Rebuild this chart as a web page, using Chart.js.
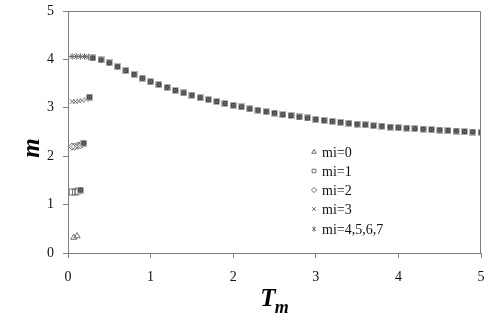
<!DOCTYPE html>
<html><head><meta charset="utf-8">
<script src="https://cdn.jsdelivr.net/npm/chart.js@4.4.1/dist/chart.umd.min.js"></script>
<style>html,body{margin:0;padding:0;background:#fff;overflow:hidden}#wrap{position:relative;width:491px;height:321px}</style>
</head><body><div id="wrap"><canvas id="c"></canvas></div>
<script>
// ---- data ----
const xTickValues = [0, 1, 2, 3, 4, 5];
const yTickValues = [0, 1, 2, 3, 4, 5];
const seriesLabels = ['mi=0', 'mi=1', 'mi=2', 'mi=3', 'mi=4,5,6,7'];
const mi0T = [0.07, 0.11];
const mi0M = [0.32, 0.35];
const mi1T = [0.05, 0.09, 0.12, 0.15];
const mi1M = [1.26, 1.26, 1.28, 1.30];
const mi2T = [0.05, 0.08, 0.12, 0.15, 0.17, 0.19];
const mi2M = [2.20, 2.20, 2.22, 2.23, 2.25, 2.27];
const mi3T = [0.05, 0.09, 0.13, 0.17, 0.22, 0.26];
const mi3M = [3.13, 3.13, 3.14, 3.15, 3.17, 3.22];
const mi47T = [0.05, 0.10, 0.15, 0.20, 0.25,
  0.3, 0.4, 0.5, 0.6, 0.7, 0.8, 0.9, 1.0, 1.1, 1.2, 1.3, 1.4, 1.5, 1.6, 1.7, 1.8, 1.9,
  2.0, 2.1, 2.2, 2.3, 2.4, 2.5, 2.6, 2.7, 2.8, 2.9, 3.0, 3.1, 3.2, 3.3, 3.4, 3.5, 3.6,
  3.7, 3.8, 3.9, 4.0, 4.1, 4.2, 4.3, 4.4, 4.5, 4.6, 4.7, 4.8, 4.9, 5.0];
const mi47M = [4.06, 4.06, 4.06, 4.06, 4.05,
  4.03, 3.99, 3.93, 3.85, 3.77, 3.69, 3.61, 3.54, 3.48, 3.42, 3.36, 3.31, 3.26, 3.21, 3.17, 3.13, 3.09,
  3.05, 3.02, 2.98, 2.95, 2.92, 2.89, 2.86, 2.84, 2.81, 2.79, 2.76, 2.74, 2.72, 2.70, 2.68, 2.66, 2.65,
  2.63, 2.62, 2.60, 2.59, 2.58, 2.57, 2.56, 2.55, 2.54, 2.53, 2.52, 2.51, 2.50, 2.49];

function pts(xs, ys) { return xs.map((x, i) => ({x: x, y: ys[i]})); }

// dark overlapping-marker look
function makeBox() {
  const c = document.createElement('canvas'); c.width = 7; c.height = 7;
  const g = c.getContext('2d');
  g.fillStyle = '#b8b8b8'; g.fillRect(0, 0, 7, 7);
  g.fillStyle = '#3c3c3c'; g.fillRect(1, 1, 5, 5);
  g.strokeStyle = '#8a8a8a'; g.lineWidth = 1;
  g.beginPath(); g.moveTo(1.5, 1.5); g.lineTo(5.5, 5.5); g.moveTo(5.5, 1.5); g.lineTo(1.5, 5.5); g.stroke();
  return c;
}
const BOX = makeBox();
const EDGE = '#6e6e6e';

const styles = ['triangle', 'rect', 'rectRot', 'crossRot', 'star'];
const radii = [3.5, 4.2, 3.6, 3.2, 3.2];

function lastDark(style) {
  return ctx => ctx.dataIndex === ctx.dataset.data.length - 1 ? BOX : style;
}

const datasets = [
  {label: seriesLabels[0], data: pts(mi0T, mi0M), pointStyle: styles[0], pointRadius: radii[0]},
  {label: seriesLabels[1], data: pts(mi1T, mi1M), pointStyle: lastDark(styles[1]), pointRadius: radii[1]},
  {label: seriesLabels[2], data: pts(mi2T, mi2M), pointStyle: lastDark(styles[2]), pointRadius: radii[2]},
  {label: seriesLabels[3], data: pts(mi3T, mi3M), pointStyle: lastDark(styles[3]), pointRadius: radii[3]},
  {label: seriesLabels[4], data: pts(mi47T, mi47M), pointStyle: ctx => ctx.dataIndex >= 5 ? BOX : styles[4], pointRadius: radii[4]}
].map(d => Object.assign(d, {showLine: false, borderColor: EDGE, backgroundColor: 'rgba(0,0,0,0)', pointBorderWidth: 1, pointHoverRadius: 4}));

const SERIF = '"Liberation Serif", "Times New Roman", serif';

function drawMarker(ctx, style, r, x, y) {
  ctx.save();
  ctx.strokeStyle = EDGE; ctx.lineWidth = 1;
  ctx.beginPath();
  if (style === 'triangle') {
    ctx.moveTo(x, y - r); ctx.lineTo(x + r * 0.866, y + r * 0.5); ctx.lineTo(x - r * 0.866, y + r * 0.5); ctx.closePath();
  } else if (style === 'rect') {
    const s = r * Math.SQRT1_2; ctx.rect(x - s, y - s, 2 * s, 2 * s);
  } else if (style === 'rectRot') {
    ctx.moveTo(x, y - r); ctx.lineTo(x + r, y); ctx.lineTo(x, y + r); ctx.lineTo(x - r, y); ctx.closePath();
  } else if (style === 'crossRot') {
    const s = r * Math.SQRT1_2; ctx.moveTo(x - s, y - s); ctx.lineTo(x + s, y + s); ctx.moveTo(x + s, y - s); ctx.lineTo(x - s, y + s);
  } else {
    const s = r * Math.SQRT1_2; ctx.moveTo(x - s, y - s); ctx.lineTo(x + s, y + s); ctx.moveTo(x + s, y - s); ctx.lineTo(x - s, y + s);
    ctx.moveTo(x, y - r); ctx.lineTo(x, y + r);
  }
  ctx.stroke();
  ctx.restore();
}

const deco = {
  id: 'deco',
  afterDraw(chart) {
    const ctx = chart.ctx, a = chart.chartArea;
    ctx.save();
    // frame top + right
    ctx.strokeStyle = '#808080'; ctx.lineWidth = 1;
    ctx.beginPath();
    ctx.moveTo(Math.round(a.left) + 0.5, Math.round(a.top) + 0.5);
    ctx.lineTo(Math.round(a.right) - 0.5, Math.round(a.top) + 0.5);
    ctx.lineTo(Math.round(a.right) - 0.5, Math.round(a.bottom));
    ctx.stroke();
    // axis titles
    ctx.fillStyle = '#000';
    ctx.font = 'bold italic 25px ' + SERIF;
    ctx.textAlign = 'center'; ctx.textBaseline = 'middle';
    ctx.save(); ctx.translate(33, 148); ctx.rotate(-Math.PI / 2); ctx.fillText('m', 0, 0); ctx.restore();
    ctx.textBaseline = 'alphabetic'; ctx.textAlign = 'left';
    const tw = ctx.measureText('T').width;
    ctx.font = 'bold italic 18px ' + SERIF;
    const mw = ctx.measureText('m').width;
    const x0 = 275 - (tw + mw) / 2;
    ctx.font = 'bold italic 25px ' + SERIF;
    ctx.fillText('T', x0, 306);
    ctx.font = 'bold italic 18px ' + SERIF;
    ctx.fillText('m', x0 + tw - 1, 313);
    // legend
    ctx.font = '14px ' + SERIF; ctx.textBaseline = 'middle'; ctx.fillStyle = '#111';
    const ly = [152, 171, 190, 209, 229];
    seriesLabels.forEach((lab, i) => {
      drawMarker(ctx, styles[i], 2.6, 314, ly[i]);
      ctx.fillText(lab, 322, ly[i] + 1);
    });
    ctx.restore();
  }
};

new Chart(document.getElementById('c'), {
  type: 'scatter',
  data: {datasets: datasets},
  options: {
    responsive: true, maintainAspectRatio: false, animation: false,
    layout: {padding: {top: 11, right: 10, left: 0, bottom: 0}},
    plugins: {legend: {display: false}, tooltip: {enabled: false}},
    scales: {
      x: {
        type: 'linear', min: 0, max: 5,
        afterBuildTicks: s => { s.ticks = xTickValues.map(v => ({value: v})); },
        afterFit: s => { s.height = 68; s.paddingRight = 0; s.paddingLeft = 0; },
        grid: {drawOnChartArea: false, drawTicks: true, tickLength: 5, tickColor: '#808080'},
        border: {color: '#808080', width: 1},
        ticks: {color: '#111', padding: 11, font: {family: SERIF, size: 14}, maxRotation: 0}
      },
      y: {
        type: 'linear', min: 0, max: 5,
        afterBuildTicks: s => { s.ticks = yTickValues.map(v => ({value: v})); },
        afterFit: s => { s.width = 68; s.paddingTop = 0; s.paddingBottom = 0; },
        grid: {drawOnChartArea: false, drawTicks: true, tickLength: 5, tickColor: '#808080'},
        border: {color: '#808080', width: 1},
        ticks: {color: '#111', padding: 9, font: {family: SERIF, size: 14}}
      }
    }
  },
  plugins: [deco]
});
</script></body></html>
